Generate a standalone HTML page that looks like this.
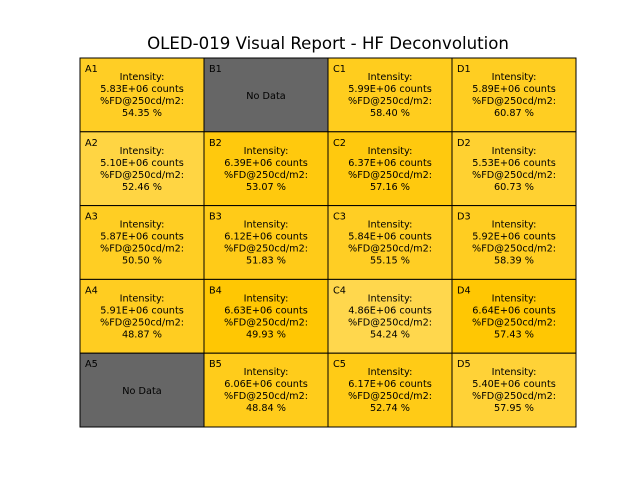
<!DOCTYPE html>
<html><head><meta charset="utf-8"><style>
body{margin:0;background:#fff;}
svg{display:block;font-family:"DejaVu Sans","Liberation Sans",sans-serif;}
</style></head><body>
<svg id="c" width="640" height="480">
<text x="328" y="49" text-anchor="middle" font-size="16.6">OLED-019 Visual Report - HF Deconvolution</text>
</svg>
<script>
const cols = ["A","B","C","D"];
const rows = [1,2,3,4,5];
const intensity = [
 [5.83e6, null, 5.99e6, 5.89e6],
 [5.10e6, 6.39e6, 6.37e6, 5.53e6],
 [5.87e6, 6.12e6, 5.84e6, 5.92e6],
 [5.91e6, 6.63e6, 4.86e6, 6.64e6],
 [null, 6.06e6, 6.17e6, 5.40e6]
];
const fd = [
 [54.35, null, 58.40, 60.87],
 [52.46, 53.07, 57.16, 60.73],
 [50.50, 51.83, 55.15, 58.39],
 [48.87, 49.93, 54.24, 57.43],
 [null, 48.84, 52.74, 57.95]
];
const svg = document.getElementById('c');
const NS = 'http://www.w3.org/2000/svg';
const x0=80, y0=58, cw=124, ch=73.8;
function color(v){
  const t=Math.max(0,Math.min(1,(v-4.8e6)/(6.7e6-4.8e6)));
  const g=Math.round(0xd8+(0xc6-0xd8)*t), b=Math.round(0x50+(0x00-0x50)*t);
  return `rgb(255,${g},${b})`;
}
function txt(x,y,s,anchor,name){
  const t=document.createElementNS(NS,'text');
  t.setAttribute('x',x);t.setAttribute('y',y);t.setAttribute('font-size','9.7');
  t.setAttribute('text-anchor',anchor);t.textContent=s;
  
  
  svg.appendChild(t);
}
rows.forEach((r,ri)=>{cols.forEach((c,ci)=>{
  const x=x0+ci*cw, y=y0+ri*ch, v=intensity[ri][ci];
  const rect=document.createElementNS(NS,'rect');
  rect.setAttribute('x',x);rect.setAttribute('y',y);rect.setAttribute('width',cw);rect.setAttribute('height',ch);
  rect.setAttribute('fill',v==null?'#666666':color(v));rect.setAttribute('stroke','#000');rect.setAttribute('stroke-width','1');
  
  
  svg.appendChild(rect);
  txt(x+5,y+14,c+r,'start','cell-label');
  const cx=x+cw/2;
  if(v==null){ txt(cx,y+ch/2+4,'No Data','middle','no-data-text'); }
  else{
    txt(cx,y+22,'Intensity:','middle','intensity-label');
    txt(cx,y+34,v.toExponential(2).toUpperCase().replace('E+6','E+06')+' counts','middle','intensity-value');
    txt(cx,y+46,'%FD@250cd/m2:','middle','fd-label');
    txt(cx,y+58,fd[ri][ci].toFixed(2)+' %','middle','fd-value');
  }
});});
</script>
</body></html>
